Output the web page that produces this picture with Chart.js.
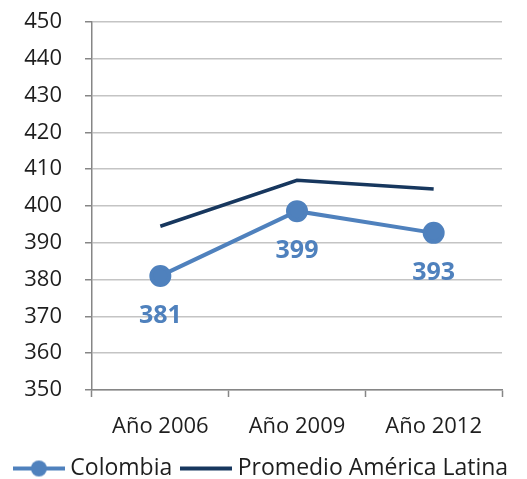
<!DOCTYPE html>
<html>
<head>
<meta charset="utf-8">
<script src="https://cdn.jsdelivr.net/npm/chart.js@4"></script>
<style>
  html, body { margin: 0; padding: 0; background: #fff; overflow: hidden; }
  #wrap { width: 527px; height: 479px; overflow: hidden; }
</style>
</head>
<body>
<div id="wrap"><canvas id="chart" width="527" height="490"></canvas></div>
<script>
const years = ['Año 2006', 'Año 2009', 'Año 2012'];
const colombia = [381, 398.6, 392.7];
const promedio = [394.5, 407, 404.6];
const seriesNames = ['Colombia', 'Promedio América Latina'];
const yTicks = { min: 350, max: 450, step: 10 };

const BLUE = '#4F81BD';
const NAVY = '#17375E';
const TEXT = '#1e1e1e';
const CANVAS_H = 490;   // taller than the window so the legend sits low, bottom is clipped
const PLOT_BOTTOM = 390;

Chart.defaults.font.family = "'Open Sans'";

// legend markers: line with circle (Colombia), plain line (Promedio)
function legendMarker(color, withDot) {
  const c = document.createElement('canvas');
  c.width = 52; c.height = 20;
  const g = c.getContext('2d');
  g.strokeStyle = color;
  g.lineWidth = 4;
  g.beginPath();
  g.moveTo(0, 10); g.lineTo(52, 10);
  g.stroke();
  if (withDot) {
    g.fillStyle = color;
    g.beginPath();
    g.arc(26, 10, 8, 0, Math.PI * 2);
    g.fill();
  }
  return c;
}
const markers = [legendMarker(BLUE, true), legendMarker(NAVY, false)];

const valueLabels = {
  id: 'valueLabels',
  afterDatasetsDraw(chart) {
    const ctx = chart.ctx;
    const meta = chart.getDatasetMeta(0);
    ctx.save();
    ctx.font = "bold 25px 'Open Sans'";
    ctx.fillStyle = BLUE;
    ctx.textAlign = 'center';
    ctx.textBaseline = 'middle';
    meta.data.forEach((pt, i) => {
      ctx.fillText(Math.round(colombia[i]), pt.x, pt.y + 40);
    });
    ctx.restore();
  }
};

new Chart(document.getElementById('chart'), {
  type: 'line',
  data: {
    labels: years,
    datasets: [
      {
        label: seriesNames[0],
        data: colombia,
        borderColor: BLUE,
        backgroundColor: BLUE,
        borderWidth: 4,
        pointRadius: 9,
        pointBackgroundColor: BLUE,
        pointBorderColor: BLUE,
        tension: 0
      },
      {
        label: seriesNames[1],
        data: promedio,
        borderColor: NAVY,
        backgroundColor: NAVY,
        borderWidth: 3.5,
        pointRadius: 0,
        tension: 0
      }
    ]
  },
  options: {
    responsive: false,
    animation: false,
    layout: { padding: { top: 22, right: 0, bottom: 0, left: 0 } },
    plugins: {
      tooltip: { enabled: false },
      legend: {
        position: 'bottom',
        labels: {
          usePointStyle: true,
          pointStyleWidth: 40,
          boxHeight: 20,
          padding: 14,
          color: TEXT,
          font: { size: 23 },
          generateLabels(chart) {
            const items = Chart.defaults.plugins.legend.labels.generateLabels(chart);
            return items.map((it, i) => ({ ...it, pointStyle: markers[i], rotation: 0 }));
          }
        }
      }
    },
    scales: {
      x: {
        offset: true,
        grid: {
          offset: true,
          drawOnChartArea: false,
          tickLength: 7,
          tickColor: '#868686',
          tickWidth: 1.5
        },
        border: { color: '#868686', width: 1.5 },
        ticks: { color: TEXT, font: { size: 22 }, padding: 17, maxRotation: 0 },
        afterFit(scale) {
          scale.height = CANVAS_H - PLOT_BOTTOM - scale.chart.legend.height;
        }
      },
      y: {
        min: yTicks.min,
        max: yTicks.max,
        grid: {
          color: '#C4C4C4',
          lineWidth: 1.5,
          tickLength: 7,
          tickColor: '#868686',
          tickWidth: 1.5
        },
        border: { color: '#868686', width: 1.5 },
        ticks: { stepSize: yTicks.step, color: TEXT, font: { size: 22 }, padding: 23 },
        afterFit(scale) {
          scale.width = 92;
          // tick padding would otherwise also push the plot down from the top
          scale.paddingTop = 0;
          scale.paddingBottom = 0;
        }
      },
      // empty right-hand axis, only reserves space on the right of the plot
      yRight: {
        position: 'right',
        display: true,
        grid: { drawOnChartArea: false, drawTicks: false },
        border: { display: false },
        ticks: { display: false },
        afterFit(scale) { scale.width = 25; }
      }
    }
  },
  plugins: [valueLabels]
});
</script>
</body>
</html>
